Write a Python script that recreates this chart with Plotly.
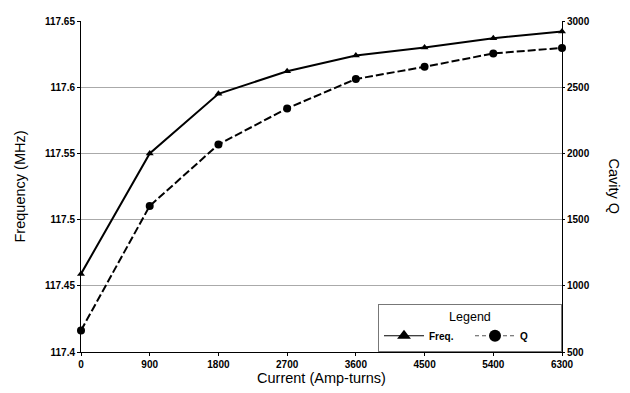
import plotly.graph_objects as go

current = [0, 900, 1800, 2700, 3600, 4500, 5400, 6300]
freq_mhz = [117.459, 117.550, 117.595, 117.612, 117.624, 117.630, 117.637, 117.642]
cavity_q = [663, 1603, 2067, 2340, 2562, 2654, 2755, 2797]
x_ticks = [0, 900, 1800, 2700, 3600, 4500, 5400, 6300]
freq_ticks = [117.4, 117.45, 117.5, 117.55, 117.6, 117.65]
freq_tick_text = ["117.4", "117.45", "117.5", "117.55", "117.6", "117.65"]
q_ticks = [500, 1000, 1500, 2000, 2500, 3000]

FONT = "Liberation Sans, Arial, sans-serif"

freq_line = dict(color="black", width=2)
q_line = dict(color="black", width=2, dash="8px,3px")

fig = go.Figure()
fig.add_trace(go.Scatter(
    x=current, y=freq_mhz, name="Freq.", mode="lines+markers",
    line=freq_line, showlegend=False,
    marker=dict(symbol="triangle-up", size=7, color="black"),
    cliponaxis=False, yaxis="y"))
fig.add_trace(go.Scatter(
    x=current, y=cavity_q, name="Q", mode="lines+markers",
    line=q_line, showlegend=False,
    marker=dict(symbol="circle", size=8, color="black"),
    cliponaxis=False, yaxis="y2"))
# legend keys (larger symbols, as in the original legend box)
fig.add_trace(go.Scatter(
    x=[None], y=[None], name="Freq.", mode="lines+markers",
    line=dict(color="black", width=1),
    marker=dict(symbol="triangle-up", size=12, color="black"), yaxis="y"))
fig.add_trace(go.Scatter(
    x=[None], y=[None], name="Q", mode="lines+markers",
    line=dict(color="#555", width=1, dash="4px,3px"),
    marker=dict(symbol="circle", size=12, color="black"), yaxis="y2"))

tickfont = dict(family=FONT, size=10, color="black", weight="bold")

fig.update_layout(
    width=622, height=385,
    margin=dict(l=73, r=68, t=7, b=41),
    paper_bgcolor="white", plot_bgcolor="white",
    showlegend=True,
    legend=dict(
        orientation="h", x=1.0, xanchor="right", y=0, yanchor="bottom",
        bgcolor="white", bordercolor="#777", borderwidth=1,
        font=dict(family=FONT, size=10, color="black", weight="bold"),
        title=dict(text="Legend", side="top center",
                   font=dict(family=FONT, size=12.5, color="black", weight="normal")),
        entrywidth=36, itemwidth=40, tracegroupgap=0,
    ),
    xaxis=dict(
        range=[0, 6300], tickvals=x_ticks, tickfont=tickfont,
        showgrid=False, showline=True, linecolor="black", linewidth=1,
        ticks="outside", ticklen=3, tickcolor="black", zeroline=False,
        title=dict(text="Current (Amp-turns)", standoff=2,
                   font=dict(family=FONT, size=14.5, color="black")),
    ),
    yaxis=dict(
        range=[117.4, 117.65], tickvals=freq_ticks, ticktext=freq_tick_text,
        tickfont=tickfont, showgrid=True, gridcolor="#aaaaaa", gridwidth=1,
        showline=True, linecolor="black", linewidth=1, zeroline=False,
        ticks="outside", ticklen=3, tickcolor="black", ticklabelstandoff=0,
        title=dict(text="Frequency (MHz)", standoff=15,
                   font=dict(family=FONT, size=14.5, color="black")),
    ),
    yaxis2=dict(
        range=[500, 3000], tickvals=q_ticks, tickfont=tickfont,
        overlaying="y", side="right", showgrid=False,
        showline=True, linecolor="black", linewidth=1, zeroline=False,
        ticks="outside", ticklen=2, tickcolor="black",
    ),
    annotations=[dict(
        text="Cavity Q", xref="paper", yref="paper", x=1.0, y=0.5,
        xshift=62, showarrow=False, textangle=90,
        font=dict(family=FONT, size=14.5, color="black"),
    )],
)

fig.write_html("out.html")
